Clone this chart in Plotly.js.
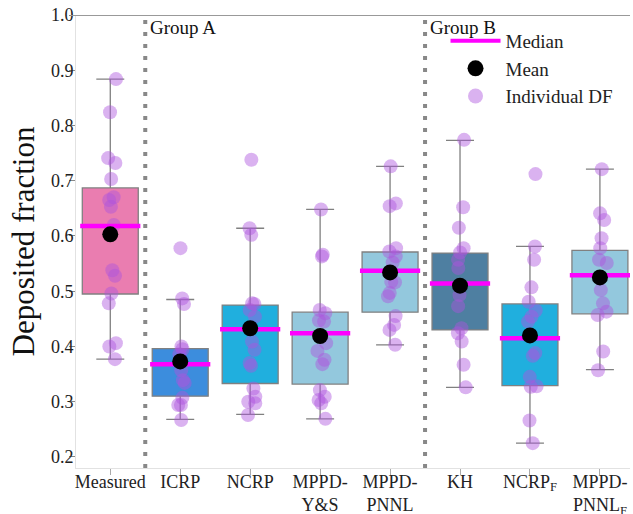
<!DOCTYPE html>
<html><head><meta charset="utf-8">
<script src="https://cdn.plot.ly/plotly-3.0.1.min.js"></script>
<style>html,body{margin:0;padding:0;background:#fff}#chart{width:633px;height:514px}</style>
</head><body><div id="chart"></div>
<script>
const categories = ["Measured","ICRP","NCRP","MPPD-Y&S","MPPD-PNNL","KH","NCRP_F","MPPD-PNNL_F"];
const tickLabels = ["Measured","ICRP","NCRP","MPPD-<br>Y&S","MPPD-<br>PNNL","KH","NCRP<sub>F</sub>","MPPD-<br>PNNL<sub>F</sub>"];
const q1 = [0.495,0.310,0.333,0.332,0.462,0.430,0.329,0.459];
const median = [0.618,0.368,0.431,0.424,0.537,0.514,0.415,0.529];
const q3 = [0.687,0.396,0.475,0.462,0.571,0.569,0.477,0.574];
const lowerFence = [0.377,0.268,0.277,0.269,0.403,0.326,0.225,0.358];
const upperFence = [0.884,0.485,0.614,0.648,0.726,0.773,0.581,0.721];
const mean = [0.603,0.373,0.433,0.419,0.534,0.510,0.420,0.525];
const boxColors = ["#EA7DB0","#3C8DDD","#20AFDE","#93C8DD","#93C8DD","#4E7FA1","#20AFDE","#93C8DD"];
const pointsMeasured = [0.884,0.824,0.741,0.732,0.703,0.670,0.665,0.653,0.620,0.538,0.528,0.496,0.478,0.406,0.400,0.377];
const pointsICRP = [0.578,0.487,0.477,0.400,0.395,0.386,0.357,0.339,0.334,0.307,0.294,0.294,0.267];
const pointsNCRP = [0.738,0.614,0.602,0.478,0.477,0.466,0.454,0.409,0.394,0.370,0.365,0.324,0.309,0.300,0.297,0.276];
const pointsMPPDYS = [0.648,0.563,0.566,0.466,0.460,0.445,0.447,0.406,0.392,0.376,0.368,0.321,0.309,0.303,0.297,0.269];
const pointsMPPDPNNL = [0.726,0.659,0.654,0.572,0.578,0.563,0.552,0.517,0.516,0.497,0.491,0.455,0.439,0.430,0.403];
const pointsKH = [0.774,0.652,0.615,0.578,0.570,0.557,0.542,0.493,0.473,0.433,0.424,0.409,0.367,0.326];
const pointsNCRPF = [0.712,0.581,0.557,0.507,0.481,0.465,0.454,0.445,0.383,0.388,0.345,0.328,0.327,0.266,0.225];
const pointsMPPDPNNLF = [0.721,0.641,0.629,0.596,0.578,0.551,0.557,0.502,0.478,0.463,0.457,0.391,0.357];
const allPoints = [pointsMeasured,pointsICRP,pointsNCRP,pointsMPPDYS,pointsMPPDPNNL,pointsKH,pointsNCRPF,pointsMPPDPNNLF];

const FONT = "Liberation Serif, Times New Roman, serif";
const ptColor = "rgba(172,84,222,0.45)";
const traces = [];
categories.forEach((c,i)=>{
  traces.push({type:"box", x:[c], q1:[q1[i]], median:[median[i]], q3:[q3[i]],
    lowerfence:[lowerFence[i]], upperfence:[upperFence[i]], width:0.8, whiskerwidth:0.5,
    fillcolor:boxColors[i], line:{color:"rgb(128,128,128)",width:1.3}, boxpoints:false,
    showlegend:false, hoverinfo:"skip"});
});
const px=[], py=[];
allPoints.forEach((arr,i)=>arr.forEach(v=>{px.push(categories[i]);py.push(v);}));
traces.push({type:"box", x:px, y:py, width:0.8, boxpoints:"all", jitter:0.18, pointpos:0.08,
  fillcolor:"rgba(0,0,0,0)", line:{width:0,color:"rgba(0,0,0,0)"},
  marker:{size:14,color:ptColor,line:{width:0}}, showlegend:false, hoverinfo:"skip"});
traces.push({type:"scatter", mode:"markers", x:categories, y:median,
  marker:{symbol:"line-ew", size:43, line:{color:"#FF00FF",width:4.5}}, showlegend:false, hoverinfo:"skip"});
traces.push({type:"scatter", mode:"lines", x:[null], y:[null], name:"Median",
  line:{color:"#FF00FF",width:4}});
traces.push({type:"scatter", mode:"markers", x:categories, y:mean, name:"Mean",
  marker:{size:16,color:"#000"}});
traces.push({type:"scatter", mode:"markers", x:[null], y:[null], name:"Individual DF",
  marker:{size:15,color:ptColor}});

const layout = {
  width:633, height:514, margin:{l:76,r:3,t:15,b:46},
  paper_bgcolor:"#fff", plot_bgcolor:"#fff",
  font:{family:FONT, size:18, color:"#222"},
  boxmode:"overlay", showlegend:true,
  xaxis:{type:"category", categoryorder:"array", categoryarray:categories,
    tickvals:categories, ticktext:tickLabels, range:[-0.49,7.43],
    showgrid:false, zeroline:false, showline:true, linecolor:"#e2e2e2", linewidth:1,
    ticks:"outside", ticklen:6, tickcolor:"#aaa", ticklabelposition:"outside", ticklabelstandoff:-9,
    tickfont:{size:18,color:"#222"}},
  yaxis:{range:[0.18,1.0], tickvals:[0.2,0.3,0.4,0.5,0.6,0.7,0.8,0.9,1.0],
    tickformat:".1f", showgrid:false, zeroline:false, showline:true, linecolor:"#e2e2e2",
    ticks:"outside", ticklen:6, tickcolor:"#888", ticklabelposition:"outside", ticklabelstandoff:-8,
    tickfont:{size:18,color:"#222"},
    title:{text:"Deposited fraction", font:{size:31,color:"#111"}, standoff:7}},
  legend:{x:0.667, y:0.985, xanchor:"left", yanchor:"top", bgcolor:"rgba(0,0,0,0)",
    itemwidth:50, font:{size:19,color:"#222"}, traceorder:"normal"},
  shapes:[
    {type:"line", xref:"paper", yref:"y", x0:-0.01, x1:1, y0:1.0, y1:1.0, line:{color:"#999",width:2}},
    {type:"line", xref:"x", yref:"paper", x0:0.5, x1:0.5, y0:0, y1:1, line:{color:"#888",width:4,dash:"4px,8px"}},
    {type:"line", xref:"x", yref:"paper", x0:4.5, x1:4.5, y0:0, y1:1, line:{color:"#888",width:4,dash:"4px,8px"}}
  ],
  annotations:[
    {xref:"x", yref:"paper", x:0.5, y:0.9735, xanchor:"left", yanchor:"middle", xshift:3, showarrow:false, text:"Group A", font:{size:19,color:"#111"}},
    {xref:"x", yref:"paper", x:4.5, y:0.9735, xanchor:"left", yanchor:"middle", xshift:3, showarrow:false, text:"Group B", font:{size:19,color:"#111"}}
  ]
};
Plotly.newPlot("chart", traces, layout, {displayModeBar:false, staticPlot:true});
</script></body></html>
